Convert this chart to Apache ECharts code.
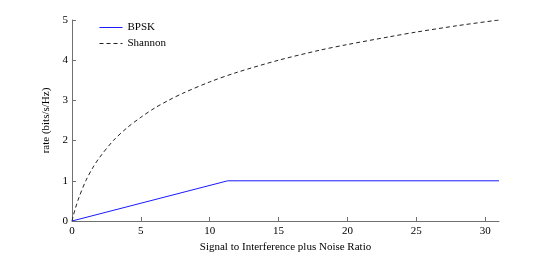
<!DOCTYPE html>
<html><head><meta charset="utf-8">
<script src="https://cdn.jsdelivr.net/npm/echarts@6/dist/echarts.min.js"></script>
<style>html,body{margin:0;padding:0;background:#fff}#c{width:551px;height:258px}</style>
</head><body><div id="c"></div>
<script>
const sinrX = [0, 0.1, 0.25, 0.5, 1, 1.5, 2, 3, 4, 5, 6, 7, 8, 10, 12, 15, 18, 20, 23, 25, 28, 31];
const shannonY = [0, 0.14, 0.32, 0.58, 1.0, 1.32, 1.58, 2.0, 2.32, 2.58, 2.81, 3.0, 3.17, 3.46, 3.7, 4.0, 4.25, 4.39, 4.58, 4.7, 4.86, 5.0];
const bpskX = [0, 11.3, 31];
const bpskY = [0, 1, 1];
const xTicks = [0, 5, 10, 15, 20, 25, 30];
const yTicks = [0, 1, 2, 3, 4, 5];
const seriesNames = ['BPSK', 'Shannon'];
const xLabel = 'Signal to Interference plus Noise Ratio';
const yLabel = 'rate (bits/s/Hz)';

const font = 'Liberation Serif';
const axisCol = '#707070';
const chart = echarts.init(document.getElementById('c'), null, {renderer: 'canvas'});
chart.setOption({
  animation: false,
  backgroundColor: '#fff',
  grid: {left: 72, right: 52, top: 20, bottom: 29},
  legend: {
    left: 99, top: 22, padding: 0, orient: 'vertical', itemGap: 5, itemWidth: 23, itemHeight: 10,
    textStyle: {fontFamily: font, fontSize: 11, color: '#000'},
    itemStyle: {opacity: 0},
    lineStyle: {width: 1},
    data: seriesNames,
  },
  xAxis: {
    type: 'value', min: 0, max: 31, interval: 5,
    name: xLabel, nameLocation: 'middle', nameGap: 21,
    nameTextStyle: {fontFamily: font, fontSize: 11, color: '#000'},
    axisLine: {show: true, lineStyle: {color: axisCol, width: 1}},
    axisTick: {show: true, inside: true, length: 4, lineStyle: {color: axisCol}},
    axisLabel: {fontFamily: font, fontSize: 11, color: '#000', margin: 5, showMaxLabel: false,
      formatter: v => xTicks.includes(v) ? String(v) : ''},
    splitLine: {show: false},
  },
  yAxis: {
    type: 'value', min: 0, max: 5, interval: 1,
    name: yLabel, nameLocation: 'middle', nameGap: 17, nameRotate: 90,
    nameTextStyle: {fontFamily: font, fontSize: 11, color: '#000'},
    axisLine: {show: true, lineStyle: {color: axisCol, width: 1}},
    axisTick: {show: true, inside: true, length: 4, lineStyle: {color: axisCol}},
    axisLabel: {fontFamily: font, fontSize: 11, color: '#000', margin: 4,
      formatter: v => yTicks.includes(v) ? String(v) : ''},
    splitLine: {show: false},
  },
  series: [
    {name: seriesNames[0], type: 'line', showSymbol: false, symbol: 'none',
     data: bpskX.map((x, i) => [x, bpskY[i]]),
     lineStyle: {color: '#1a1aff', width: 1}, itemStyle: {color: '#1a1aff'}},
    {name: seriesNames[1], type: 'line', showSymbol: false, symbol: 'none', smooth: 0.3,
     data: sinrX.map((x, i) => [x, shannonY[i]]),
     lineStyle: {color: '#222', width: 1, type: [4, 3]}, itemStyle: {color: '#222'}},
  ],
});
</script></body></html>
